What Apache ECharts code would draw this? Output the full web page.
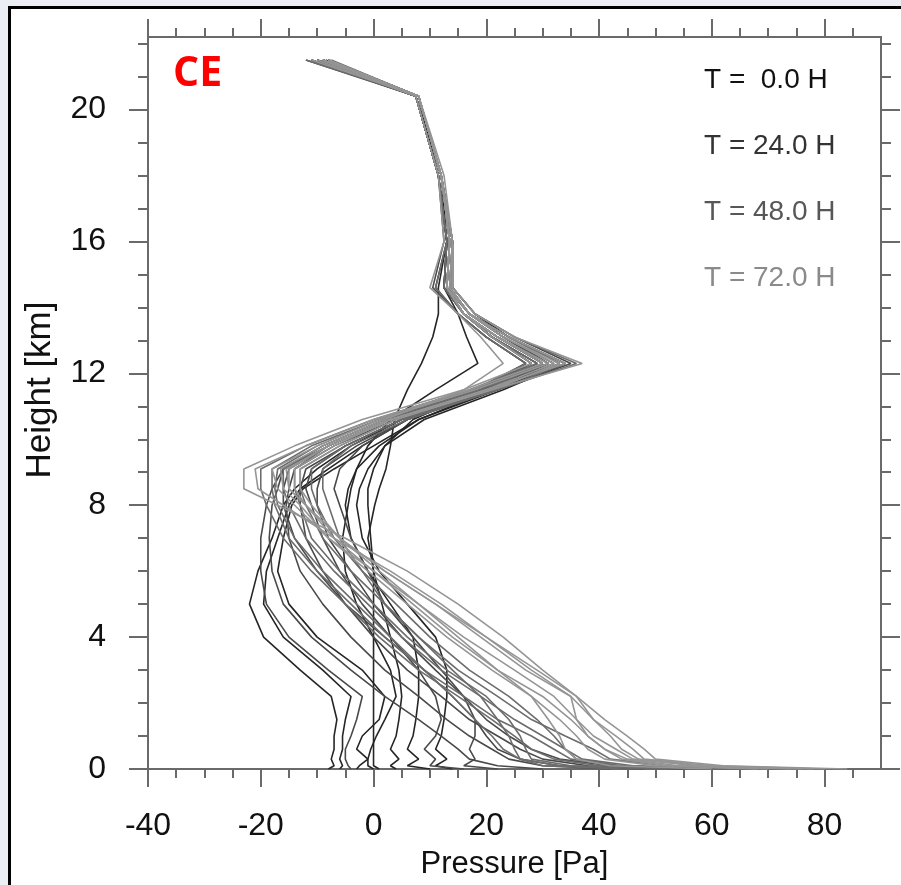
<!DOCTYPE html>
<html>
<head>
<meta charset="utf-8">
<script src="https://cdn.jsdelivr.net/npm/echarts@6/dist/echarts.min.js"></script>
<style>
html, body { margin: 0; padding: 0; background: #eceef5; overflow: hidden; }
#frame { position: absolute; left: 8px; top: 6px; width: 910px; height: 900px; background: #fff; border: 3px solid #000; box-sizing: border-box; }
#chart { position: absolute; left: 0; top: 0; width: 901px; height: 885px; }
</style>
</head>
<body>
<div id="frame"></div>
<div id="chart"></div>
<script>
// heights (km) shared by every profile, bottom to top
const heights = [0, 0.1, 0.3, 0.6, 1.0, 1.5, 2.2, 3.0, 4.0, 5.0, 6.0, 7.0, 8.0, 8.5, 9.1, 9.8, 10.6, 11.5, 12.3, 13.1, 13.8, 14.6, 16.0, 18.0, 20.4, 21.5];

const timeLabels = ["T =  0.0 H", "T = 24.0 H", "T = 48.0 H", "T = 72.0 H"];

// pressure (Pa) at each height
const profilesT0 = [
    [-8, -7, -7.5, -7, -7, -6.5, -7.5, -13, -19.5, -22, -20.5, -18, -16, -14, -10, -4, 5, 19, 31, 23, 17, 13, 13.5, 12, 7.5, -9],
    [-6, -5.5, -6, -5.5, -5.5, -5, -4, -9, -16, -19.5, -19, -17, -15, -13, -8, -2, 6, 20, 29, 21, 16, 12.5, 13, 11.5, 7.5, -10],
    [-3, -2.5, -1, -3, -2, 1, 2, -2, -10, -15, -17, -16, -14.5, -12.5, -7, 0, 8, 22, 33, 24, 18, 14, 14, 12, 8, -8],
    [1, 0, 0, 0, 0, 0, 0, 0, 0, 0, 0, -0.5, -1, -1, 0, 2, 7, 19, 27, 20, 15, 11, 13, 11.5, 7.5, -11],
    [10, 6, 8, 6, 7, 7.5, 8, 8, 7, 3, -1, -4, -5, -4.5, -3, 1, 8, 21, 30, 22, 16, 13, 13.5, 12, 7.5, -9],
    [14, 11, 13, 11, 12, 12.5, 13, 13, 11, 6, 1, -2, -3, -2.5, -1, 2, 9, 23, 34, 24, 17, 13.5, 14, 12, 8, -8],
    [4, 3, 4.5, 3, 4, 4.5, 5, 4.5, 3, 1.5, 0, -1, 0.2, 1, 2.2, 3, 3.7, 6, 8.5, 10.5, 11.5, 11.5, 13, 12, 8, -8.5],
    [0, -1, -1, -0.5, 0.5, 2, 4, 3, 0, -3, -5, -5.5, -4.5, -4, -3, -1, 3, 11, 18.5, 16.5, 15, 12.5, 13, 11.5, 7.5, -10]
];
const profilesT24 = [
    [30, 22, 17, 15, 12, 8, 2, -4, -11, -16, -18, -18.5, -18, -17, -16, -9, 2, 18, 28, 21, 16, 12.5, 13, 11.5, 7.5, -10],
    [42, 30, 24, 21, 17, 13, 8, 2, -4, -9, -13, -15, -15.5, -15, -14, -7, 4, 20, 30, 22, 16, 13, 13.5, 12, 8, -9],
    [55, 38, 30, 26, 22, 17, 12, 6, 0, -5, -9, -12, -13, -13, -12, -5, 5, 21, 32, 23, 17, 13.5, 14, 12, 8, -8],
    [-4, -4.5, -5, -5, -4, -3, -2, -8, -15, -19, -20, -20, -19, -18, -16, -8, 3, 18, 27, 20, 15, 10.5, 12.5, 11.5, 7.5, -11],
    [60, 42, 33, 28, 24, 20, 16, 11, 5, 0, -4, -8, -10, -10, -9, -3, 6, 22, 35, 25, 18, 14, 14, 12, 8, -8],
    [48, 33, 26, 22, 20, 18, 14, 9, 2, -5, -10, -14, -16, -16, -15, -8, 3, 19, 29, 21, 16, 12.5, 13, 11.5, 7.5, -10],
    [22, 16, 18, 17, 18, 18, 16, 12, 7, 2, -1, -4, -6, -7, -6, -2, 6, 21, 31, 23, 17, 13, 13.5, 12, 8, -9],
    [16, 10, 11, 9, 11, 12, 11, 8, 3, -2, -6, -9, -11, -12, -11, -5, 5, 20, 28, 21, 16, 12.5, 13, 11.5, 7.5, -12]
];
const profilesT48 = [
    [58, 40, 32, 28, 25, 21, 15, 8, 1, -5, -11, -16, -19, -20, -20, -12, 0, 17, 29, 21, 16, 12.5, 13, 11.5, 7.5, -10],
    [66, 46, 37, 34, 30, 25, 19, 12, 5, -1, -7, -12, -15, -16, -16, -9, 2, 19, 31, 22, 16, 13, 13.5, 12, 8, -9],
    [72, 52, 42, 39, 34, 28, 22, 15, 8, 2, -4, -9, -12, -13, -13, -6, 4, 21, 33, 24, 17, 13.5, 14, 12, 8, -7.5],
    [50, 33, 26, 23, 21, 18, 14, 9, 3, -3, -9, -14, -17, -17.5, -17, -10, 1, 18, 27, 20, 15, 11, 13, 11.5, 7.5, -11],
    [62, 44, 36, 34, 32, 29, 24, 17, 10, 4, -2, -7, -10, -11, -11, -5, 5, 22, 36, 25, 18, 14, 14, 12, 8, -8],
    [52, 35, 28, 27, 26, 24, 20, 13, 6, 0, -6, -11, -13, -14, -14, -8, 3, 20, 30, 22, 16, 13, 13.5, 12, 8, -9],
    [44, 30, 26, 25, 24, 22, 19, 14, 8, 2, -2, -6, -8, -9, -9, -4, 6, 22, 34, 24, 17, 13.5, 14, 12, 8, -8],
    [64, 43, 35, 32, 28, 22, 16, 9, 2, -4, -10, -15, -17.5, -18, -18, -11, 1, 18, 30, 22, 16, 13, 13.5, 12, 8, -12]
];
const profilesT72 = [
    [84, 62, 50, 48, 45, 41, 36, 30, 23, 15, 6, -5, -17, -23, -23, -14, -2, 16, 28, 21, 16, 13, 13.5, 12, 8, -9],
    [80, 60, 48, 46, 43, 39, 35, 28, 20, 12, 3, -7, -16, -20.5, -21, -12, 0, 17, 30, 22, 16, 13, 13.5, 12, 8, -9],
    [76, 57, 46, 43, 39, 36, 32, 25, 16, 8, 0, -8, -14, -17, -18, -10, 1, 18, 31, 22, 16, 13, 13.5, 12, 8, -11],
    [70, 52, 44, 41, 38, 35, 30, 22, 14, 7, 0, -7, -12, -15, -15, -8, 3, 20, 32, 23, 17, 13, 13.5, 12, 8, -9],
    [68, 50, 41, 38, 36, 33, 28, 21, 13, 6, -1, -8, -13, -16, -16.5, -9, 2, 16, 23, 19, 15, 10, 12.5, 11.5, 7.5, -10],
    [74, 54, 45, 41, 38, 36, 35, 27, 19, 11, 2, -6, -12, -15, -15.5, -8, 3, 21, 37, 25, 18, 14, 14, 12.5, 8, -8],
    [60, 42, 36, 34, 33, 31, 28, 22, 15, 8, 1, -6, -11, -13, -13, -6, 4, 21, 33, 23, 17, 13.5, 14, 12, 8, -8],
    [78, 58, 47, 44, 42, 39, 36, 29, 20, 11, 2, -6, -12, -14, -14, -7, 3, 20, 34, 24, 17, 13.5, 14, 12, 8, -8]
];

const xMajorTicks = [-40, -20, 0, 20, 40, 60, 80];
const xMinorTicks = [-35, -30, -25, -15, -10, -5, 5, 10, 15, 25, 30, 35, 45, 50, 55, 65, 70, 75, 85];
const yMajorTicks = [0, 4, 8, 12, 16, 20];
const yMinorTicks = [1, 2, 3, 5, 6, 7, 9, 10, 11, 13, 14, 15, 17, 18, 19, 21, 22];

const lineColors = ["#262626", "#4a4a4a", "#6c6c6c", "#959595"];
const labelColors = ["#111111", "#333333", "#575757", "#8a8a8a"];

const axisGray = "#6a6a6a";
const font = "'Liberation Sans', Arial, sans-serif";

function xAxisDef(position, major) {
    return {
        type: "value", min: -40, max: 90, position: position,
        axisLine: {show: major, onZero: false, lineStyle: {color: axisGray, width: 2}},
        axisTick: {length: major ? 18 : 9, customValues: major ? xMajorTicks : xMinorTicks,
            lineStyle: {color: axisGray, width: 2}},
        axisLabel: {show: major && position === "bottom", customValues: xMajorTicks,
            fontFamily: font, fontSize: 32, color: "#111", margin: 41},
        splitLine: {show: false},
        name: major && position === "bottom" ? "Pressure [Pa]" : "",
        nameLocation: "middle", nameGap: 80,
        nameTextStyle: {fontFamily: font, fontSize: 31, color: "#111"}
    };
}
function yAxisDef(position, major) {
    return {
        type: "value", min: 0, max: 22.2, position: position,
        axisLine: {show: major, onZero: false, lineStyle: {color: axisGray, width: 2}},
        axisTick: {length: major ? 19 : 10, customValues: major ? yMajorTicks : yMinorTicks,
            lineStyle: {color: axisGray, width: 2}},
        axisLabel: {show: major && position === "left", customValues: yMajorTicks,
            fontFamily: font, fontSize: 32, color: "#111", margin: 42},
        splitLine: {show: false}
    };
}

// earliest time drawn first, later (lighter) times on top
const groups = [profilesT0, profilesT24, profilesT48, profilesT72];
const series = [];
groups.forEach((group, g) => {
    group.forEach(profile => {
        series.push({
            type: "line",
            xAxisIndex: 0,
            yAxisIndex: 0,
            showSymbol: false,
            silent: true,
            lineStyle: {color: lineColors[g], width: 1.6},
            data: heights.map((h, i) => [profile[i], h])
        });
    });
});

const legendTexts = timeLabels.map((t, i) => ({
    type: "text",
    left: 704,
    top: 66 + i * 66,
    style: {text: t, fill: labelColors[i], font: "28px " + font}
}));

const chart = echarts.init(document.getElementById("chart"));
chart.setOption({
    animation: false,
    backgroundColor: "transparent",
    grid: {left: 148, top: 37, right: 20, bottom: 116},
    xAxis: [xAxisDef("bottom", true), xAxisDef("bottom", false), xAxisDef("top", true), xAxisDef("top", false)],
    yAxis: [yAxisDef("left", true), yAxisDef("left", false), yAxisDef("right", true), yAxisDef("right", false)],
    graphic: [
        {type: "text", left: 173, top: 54,
            style: {text: "CE", fill: "#ff0000", font: "bold 41px 'Open Sans', sans-serif"}},
        {type: "text", x: 40, y: 390, rotation: Math.PI / 2,
            style: {text: "Height [km]", fill: "#111", font: "35px " + font,
                textAlign: "center", textVerticalAlign: "middle"}}
    ].concat(legendTexts),
    series: series
});
</script>
</body>
</html>
